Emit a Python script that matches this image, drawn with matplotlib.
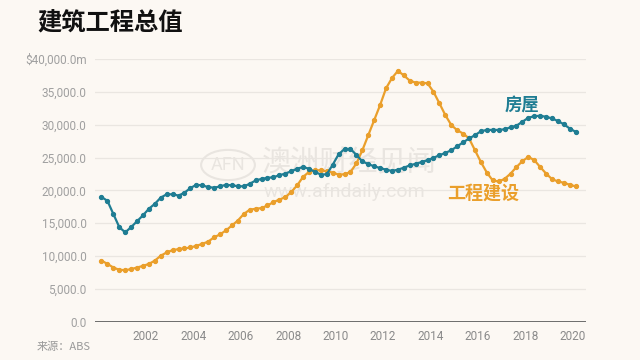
import matplotlib
matplotlib.use("Agg")
import matplotlib.pyplot as plt
import numpy as np
from matplotlib.patches import Circle

plt.rcParams['font.family'] = ['Noto Sans CJK SC', 'DejaVu Sans']

# ---- data (quarterly, 2000 Q2 .. 2020 Q2) ----
start_year = 2000.125
housing = [19000, 18400, 16400, 14400, 13600, 14400, 15300, 16200, 17200, 17950,
           18900, 19400, 19400, 19200, 19650, 20350, 20850, 20750, 20500, 20400,
           20600, 20850, 20750, 20650, 20600, 21000, 21500, 21750, 21900, 22000,
           22300, 22550, 22900, 23300, 23550, 23300, 22800, 22400, 22450, 23900,
           25500, 26300, 26300, 25400, 24400, 24000, 23650, 23400, 23150, 22950,
           23150, 23450, 23800, 24050, 24300, 24600, 24950, 25350, 25700, 26100,
           26700, 27300, 27900, 28400, 29000, 29200, 29200, 29200, 29300, 29600,
           29850, 30450, 31050, 31300, 31350, 31200, 30950, 30550, 30050, 29400,
           28900]
engineering = [9300, 8800, 8250, 7900, 7850, 8000, 8250, 8500, 8800, 9300,
               10050, 10550, 10900, 11050, 11150, 11300, 11550, 11850, 12200, 12850,
               13300, 13900, 14650, 15400, 16400, 17050, 17200, 17300, 17700, 18200,
               18600, 18950, 19750, 20750, 22050, 22800, 23050, 23050, 22900, 22700,
               22400, 22450, 22800, 24100, 26100, 28400, 30700, 33000, 35550, 37100,
               38200, 37500, 36700, 36400, 36400, 36300, 35000, 33250, 31450, 29950,
               29150, 28650, 27900, 26100, 24300, 22700, 21500, 21350, 21750, 22550,
               23550, 24450, 25100, 24600, 23550, 22550, 21700, 21350, 21150, 20850,
               20600]
xticks = [2002, 2004, 2006, 2008, 2010, 2012, 2014, 2016, 2018, 2020]
yticks = [0, 5000, 10000, 15000, 20000, 25000, 30000, 35000, 40000]
ytick_labels = ["0.0", "5,000.0", "10,000.0", "15,000.0", "20,000.0",
                "25,000.0", "30,000.0", "35,000.0", "$40,000.0m"]
title = "建筑工程总值"
source = "来源：ABS"
label_housing = "房屋"
label_eng = "工程建设"

bg = "#FCF8F3"
teal = "#1F7D93"
orange = "#EA9F2B"

x = start_year + 0.25 * np.arange(len(housing))

fig = plt.figure(figsize=(6.4, 3.6), dpi=100, facecolor=bg)
ax = fig.add_axes([0.1484, 0.1064, 0.767, 0.7297], facecolor=bg)

for y in yticks[1:]:
    ax.axhline(y, color="#EAE6E1", lw=0.9, zorder=0)
ax.axhline(0, color="#555555", lw=1.2, zorder=3)

# watermark (drawn inside the axes, below the lines)
wm = "#E9E5E0"
tf = fig.transFigure
ax.add_patch(Circle((228 / 640, 1 - 165 / 360), 0.042, transform=tf,
                    fill=False, ec=wm, lw=1.5, zorder=1, clip_on=False))
ax.text(228 / 640, 1 - 165 / 360, "AFN", ha="center", va="center", color=wm,
        fontsize=13, family=["Roboto", "DejaVu Sans"], zorder=1, transform=tf)
ax.text(262 / 640, 1 - 163 / 360, "澳洲财经见闻", ha="left", va="center", color=wm,
        fontsize=21, zorder=1, transform=tf)
ax.text(264 / 640, 1 - 192 / 360, "www.afndaily.com", ha="left", va="center", color=wm,
        fontsize=14, family=["Roboto", "DejaVu Sans"], zorder=1, transform=tf)

ax.plot(x, engineering, color=orange, lw=1.6, marker="o", ms=2.8, zorder=4)
ax.plot(x, housing, color=teal, lw=1.6, marker="o", ms=2.8, zorder=5)

ax.set_xlim(1999.85, 2020.55)
ax.set_ylim(0, 40000)
ax.set_xticks(xticks)
ax.set_xticklabels([str(t) for t in xticks], family=["Roboto", "DejaVu Sans"],
                   fontsize=8.5, color="#8A8A8A")
ax.set_yticks(yticks)
ax.set_yticklabels(ytick_labels, family=["Roboto", "DejaVu Sans"],
                   fontsize=8.5, color="#A0A0A0")
ax.tick_params(axis="both", length=0)
ax.tick_params(axis="x", pad=6)
ax.tick_params(axis="y", pad=6)
for s in ax.spines.values():
    s.set_visible(False)

ax.text(2017.85, 32900, label_housing, color=teal, fontsize=12.5, fontweight="bold",
        ha="center", va="center", zorder=6)
ax.text(2016.2, 19650, label_eng, color=orange, fontsize=13, fontweight="bold",
        ha="center", va="center", zorder=6)

fig.text(37 / 640, 1 - 23 / 360, title, fontsize=17.5, fontweight="bold",
         color="#111111", ha="left", va="center")
fig.text(37 / 640, 1 - 347 / 360, source, fontsize=8, color="#999999",
         ha="left", va="center")

fig.savefig("out.png", dpi=100, facecolor=bg)
